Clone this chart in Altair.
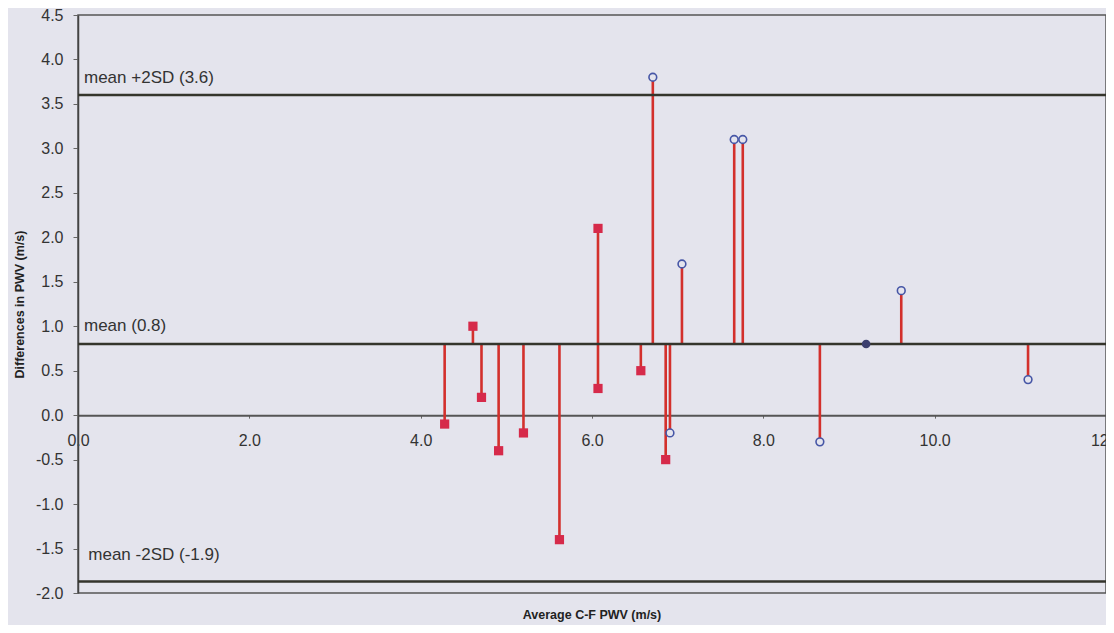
import altair as alt
import pandas as pd

# ---- data ----
x_vals = [4.28, 4.61, 4.71, 4.91, 5.20, 5.62, 6.07, 6.07, 6.57, 6.86,
          6.71, 6.91, 7.05, 7.66, 7.76, 8.66, 9.20, 9.61, 11.09]
diff_vals = [-0.1, 1.0, 0.2, -0.4, -0.2, -1.4, 2.1, 0.3, 0.5, -0.5,
             3.8, -0.2, 1.7, 3.1, 3.1, -0.3, 0.8, 1.4, 0.4]
marker_vals = ["square"] * 10 + ["circle"] * 6 + ["dot"] + ["circle"] * 2

mean_diff = 0.8
ref_names = ["mean +2SD (3.6)", "mean (0.8)", "mean -2SD (-1.9)"]
ref_vals = [3.6, 0.8, -1.87]
ref_label_y = [3.79, 1.0, -1.57]
ref_label_x = [0.07, 0.07, 0.12]

x_ticks = [0, 2, 4, 6, 8, 10, 12]
y_ticks = [-2.0, -1.5, -1.0, -0.5, 0.0, 0.5, 1.0, 1.5, 2.0, 2.5, 3.0, 3.5, 4.0, 4.5]

pts = pd.DataFrame({"x": x_vals, "d": diff_vals, "m": marker_vals})
pts["mean"] = mean_diff
refs = pd.DataFrame({"name": ref_names, "v": ref_vals, "ly": ref_label_y, "lx": ref_label_x})

W, H = 1028, 578
y_dom = [-2.0, 4.5]
x_dom = [0, 12]
# offset of the x axis so that it sits at y = 0
x_axis_offset = -H * (0 - y_dom[0]) / (y_dom[1] - y_dom[0])

BG = "#e4e4ed"
FONT = "Liberation Sans"
TXT = "#333333"
HYPHEN_LABEL = "replace(format(datum.value, '.1f'), '\u2212', '-')"

xs = alt.Scale(domain=x_dom, nice=False, zero=False)
ys = alt.Scale(domain=y_dom, nice=False, zero=False)

x_axis = alt.Axis(values=x_ticks, labelExpr=HYPHEN_LABEL, offset=x_axis_offset, title=None,
                  grid=False, tickSize=3, labelPadding=14, labelFontSize=16,
                  labelFont=FONT, labelColor=TXT, domainColor="#555555",
                  domainWidth=2, tickColor="#666666", labelOverlap=False,
                  labelBound=False, labelFlush=False)
y_axis = alt.Axis(values=y_ticks, labelExpr=HYPHEN_LABEL, title="Differences in PWV  (m/s)",
                  grid=False, tickSize=5, labelPadding=10, labelFontSize=16,
                  labelFont=FONT, labelColor=TXT, domainColor="#444444",
                  domainWidth=1.5, tickColor="#666666", titleFont=FONT,
                  titleFontSize=12.5, titleFontWeight="bold", titleColor="#222222",
                  titlePadding=9, labelOverlap=False)

base = alt.Chart(pts)

stems = base.mark_rule(color="#d3302c", strokeWidth=2.6).encode(
    x=alt.X("x:Q", scale=xs, axis=x_axis),
    y=alt.Y("d:Q", scale=ys, axis=y_axis),
    y2="mean:Q",
)

ref_lines = alt.Chart(refs).mark_rule(color="#34352c", strokeWidth=2.5).encode(
    y=alt.Y("v:Q", scale=ys)
)

ref_text = alt.Chart(refs).mark_text(
    align="left", baseline="middle", font=FONT, fontSize=17, color=TXT
).encode(
    x=alt.X("lx:Q", scale=xs),
    y=alt.Y("ly:Q", scale=ys),
    text="name:N",
)

squares = base.transform_filter(alt.datum.m == "square").mark_square(
    size=85, color="#d62a4a", opacity=1, filled=True
).encode(x=alt.X("x:Q", scale=xs), y=alt.Y("d:Q", scale=ys))

circles = base.transform_filter(alt.datum.m == "circle").mark_point(
    shape="circle", size=60, stroke="#4656a6", strokeWidth=1.6, fill=BG,
    filled=False, opacity=1, fillOpacity=1
).encode(x=alt.X("x:Q", scale=xs), y=alt.Y("d:Q", scale=ys))

dots = base.transform_filter(alt.datum.m == "dot").mark_circle(
    size=75, color="#3b3e6e", opacity=1
).encode(x=alt.X("x:Q", scale=xs), y=alt.Y("d:Q", scale=ys))

chart = alt.layer(stems, ref_lines, ref_text, squares, circles, dots).properties(
    width=W, height=H,
    title=alt.TitleParams("Average C-F PWV (m/s)", orient="bottom", anchor="middle",
                          frame="group", font=FONT, fontSize=12.5,
                          fontWeight="bold", color="#222222", offset=8),
    autosize=alt.AutoSizeParams(type="none"),
    padding={"left": 70, "top": 7, "right": 0, "bottom": 32},
).configure(background=BG).configure_view(stroke="#555555", strokeWidth=1.5, fill=BG)

chart.save("out.html", embed_options={"renderer": "svg", "actions": False})
